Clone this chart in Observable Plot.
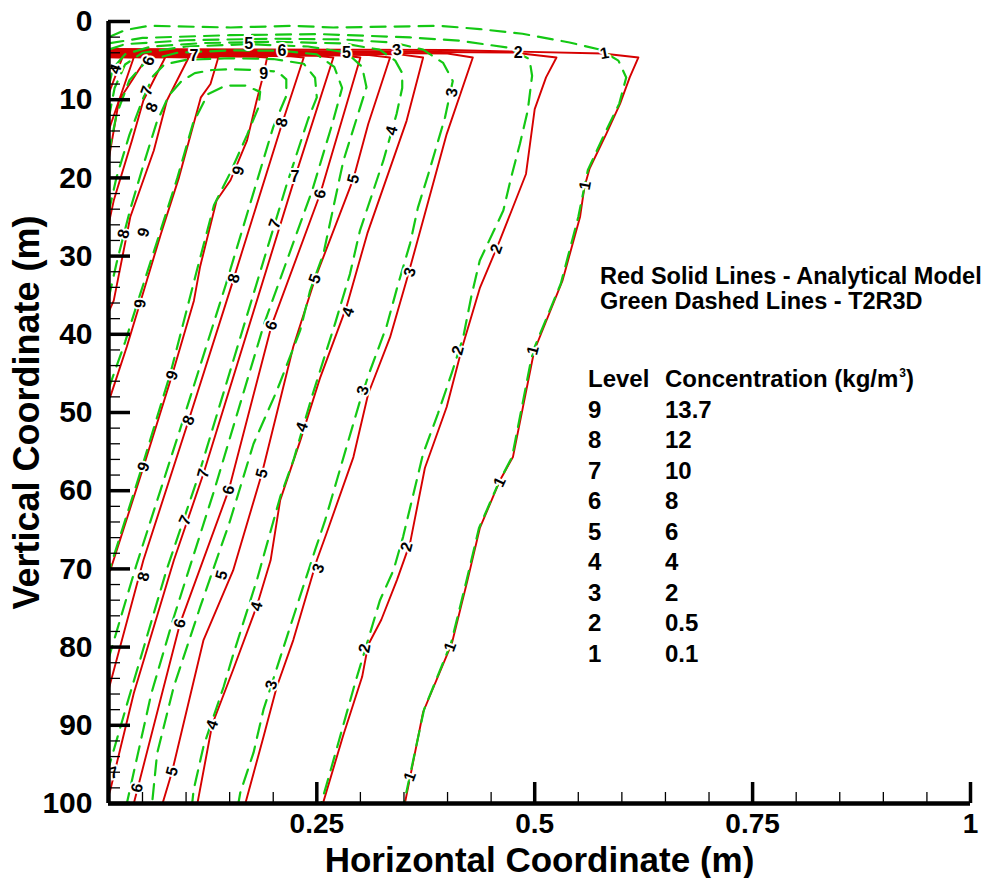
<!DOCTYPE html>
<html>
<head>
<meta charset="utf-8">
<script src="https://cdn.jsdelivr.net/npm/d3@7"></script>
<script src="https://cdn.jsdelivr.net/npm/@observablehq/plot@0.6"></script>
<style>
  html, body { margin: 0; padding: 0; background: #fff; }
  #wrap { position: relative; width: 1001px; height: 878px; overflow: hidden;
          font-family: "Liberation Sans", Arial, Helvetica, sans-serif; font-weight: bold; color: #000; }
  #wrap svg { position: absolute; left: 0; top: 0; }
  .note { position: absolute; white-space: nowrap; font-size: 24px; }
  .head { font-size: 23.5px; line-height: 24.5px; }
  .levels { left: 588px; top: 364px; line-height: 30.5px; }
  .levels .row { display: flex; height: 30.5px; }
  .levels .lv { width: 77px; }
  .sup { font-size: 12px; line-height: 0; position: relative; top: -10px; margin-left: 1px; }
</style>
</head>
<body>
<div id="wrap"></div>
<script>
// Axis ticks
const xTicks = [0.25, 0.5, 0.75, 1];
const xTickLabels = ["0.25", "0.5", "0.75", "1"];
const yTicks = [0, 10, 20, 30, 40, 50, 60, 70, 80, 90, 100];
const xDomain = [0.011, 1];

// Contour levels
const levels = [9, 8, 7, 6, 5, 4, 3, 2, 1];
const concentrations = ["13.7", "12", "10", "8", "6", "4", "2", "0.5", "0.1"];

// Analytical model contours (x in m, depth in m)
const red1 = [[0.011,3.5],[0.40,3.65],[0.578,4.09],[0.619,4.6],[0.609,7.15],[0.598,10.5],[0.582,14.4],[0.563,18.8],[0.557,21.2],[0.552,25.0],[0.532,33.1],[0.502,41.4],[0.498,42.9],[0.475,55.7],[0.460,58.7],[0.437,64.8],[0.423,71.4],[0.405,79.5],[0.372,88.3],[0.351,100]];
const red2 = [[0.011,3.62],[0.475,3.96],[0.525,4.6],[0.513,7.15],[0.500,11.2],[0.490,19.5],[0.460,28.0],[0.437,34.1],[0.417,41.6],[0.399,49.3],[0.374,57.1],[0.357,66.7],[0.342,71.4],[0.324,76.5],[0.309,79.7],[0.302,83.8],[0.280,91.4],[0.257,100]];
const red3 = [[0.011,3.75],[0.400,4.1],[0.429,4.6],[0.399,14.4],[0.374,24.6],[0.353,33.1],[0.334,40.4],[0.309,47.6],[0.292,55.7],[0.261,65.5],[0.250,68.9],[0.223,79.1],[0.204,85.1],[0.189,91.4],[0.168,100]];
const red4 = [[0.011,3.85],[0.345,4.2],[0.372,4.6],[0.353,12.7],[0.308,27.1],[0.284,36.5],[0.254,45.5],[0.231,53.6],[0.208,61.2],[0.197,68.9],[0.181,74.8],[0.154,82.9],[0.130,89.9],[0.113,100]];
const red5 = [[0.011,3.95],[0.310,4.3],[0.334,4.6],[0.309,13.1],[0.292,20.1],[0.248,32.9],[0.223,41.6],[0.187,57.8],[0.154,70.2],[0.120,79.1],[0.084,95.9],[0.073,100]];
const red6 = [[0.011,4.05],[0.280,4.35],[0.300,4.6],[0.254,22.0],[0.198,38.9],[0.149,59.9],[0.093,77.0],[0.040,100]];
const red7 = [[0.011,4.12],[0.250,4.4],[0.269,4.6],[0.225,19.9],[0.120,57.8],[0.086,68.9],[0.040,85.9],[0.013,98.3],[0.011,99]];
const red8 = [[0.011,4.2],[0.220,4.45],[0.235,4.6],[0.210,13.1],[0.154,33.1],[0.103,51.0],[0.051,68.9],[0.011,85.5]];
const red9 = [[0.011,4.28],[0.180,4.5],[0.193,4.6],[0.189,6.7],[0.181,10.1],[0.170,15.2],[0.151,20.3],[0.135,22.9],[0.116,31.4],[0.109,35.7],[0.084,45.2],[0.051,57.0],[0.013,70.2]];
const red9West = [[0.011,4.35],[0.137,4.6],[0.128,8.0],[0.117,9.7],[0.092,19.9],[0.071,27.2],[0.048,35.7],[0.032,41.6],[0.013,48.0]];
const red8West = [[0.011,4.42],[0.103,4.6],[0.078,10.1],[0.063,16.5],[0.036,25.0],[0.017,35.7],[0.011,37.2]];
const red7West = [[0.011,4.48],[0.076,4.6],[0.051,10.1],[0.038,15.2],[0.017,22.9],[0.011,26.0]];
const red6West = [[0.011,4.52],[0.055,4.6],[0.023,10.1],[0.011,17.8]];
const red5West = [[0.011,4.56],[0.040,4.6],[0.011,14.0]];
const red4West = [[0.011,4.58],[0.027,4.6],[0.011,9.3]];

// T2R3D contours
const green1 = [[0.011,2.0],[0.030,1.1],[0.057,0.55],[0.151,0.77],[0.223,0.55],[0.269,0.77],[0.391,0.55],[0.437,0.97],[0.486,1.57],[0.540,2.68],[0.575,3.6],[0.596,5.0],[0.605,7.15],[0.597,10.5],[0.580,14.4],[0.561,19.0],[0.550,25.0],[0.530,33.5],[0.500,41.6],[0.496,43.2],[0.474,55.7],[0.459,58.9],[0.436,64.8],[0.422,71.4],[0.404,79.5],[0.373,88.0],[0.350,100]];
const green2 = [[0.011,2.8],[0.050,2.1],[0.150,1.75],[0.254,1.61],[0.307,1.83],[0.357,2.04],[0.414,2.46],[0.468,3.32],[0.494,4.8],[0.497,6.94],[0.492,11.4],[0.483,15.66],[0.473,19.92],[0.464,24.18],[0.437,30.56],[0.4275,35.03],[0.418,40.36],[0.4046,45.03],[0.389,50.14],[0.372,55.25],[0.349,65.9],[0.338,70.15],[0.3225,74.0],[0.2939,84.6],[0.267,95.3],[0.255,100]];
const green3 = [[0.011,3.6],[0.030,2.9],[0.100,2.4],[0.200,2.2],[0.280,2.3],[0.338,2.7],[0.372,3.6],[0.395,5.3],[0.406,7.6],[0.397,12.3],[0.378,19.5],[0.366,23.8],[0.357,28.4],[0.3435,33.5],[0.330,39.0],[0.310,45.0],[0.2996,48.5],[0.2862,53.6],[0.2729,58.7],[0.2595,63.8],[0.248,67.6],[0.2194,77.4],[0.1888,88.0],[0.1774,93.5],[0.1622,98.6],[0.160,100]];
const green4 = [[0.011,8.5],[0.016,6.0],[0.030,4.2],[0.060,3.2],[0.120,2.75],[0.200,2.6],[0.280,2.8],[0.322,3.6],[0.340,5.0],[0.348,6.6],[0.348,8.5],[0.3416,11.8],[0.3263,17.8],[0.311,22.9],[0.2996,26.7],[0.288,32.3],[0.271,38.6],[0.2576,43.3],[0.2443,48.0],[0.2232,56.1],[0.208,60.8],[0.1813,71.4],[0.1545,80.8],[0.143,85.1],[0.120,92.7],[0.1087,98.25],[0.107,100]];
const green5 = [[0.011,12.5],[0.018,8.5],[0.030,5.5],[0.050,4.0],[0.100,3.2],[0.172,2.9],[0.240,3.2],[0.284,3.96],[0.302,5.8],[0.307,8.4],[0.2805,17.8],[0.2576,29.7],[0.2423,34.4],[0.2309,39.5],[0.2042,47.2],[0.1774,54.0],[0.150,64.0],[0.1164,74.8],[0.0858,85.1],[0.0668,93.6],[0.061,100]];
const green6 = [[0.011,17.0],[0.020,12.0],[0.035,7.5],[0.055,5.0],[0.090,4.0],[0.150,3.7],[0.210,3.74],[0.250,4.2],[0.270,5.8],[0.279,8.5],[0.268,13.0],[0.245,21.5],[0.190,38.5],[0.1316,60.2],[0.085,76.5],[0.060,86.0],[0.032,100]];
const green7 = [[0.011,24.5],[0.020,20.0],[0.035,14.5],[0.050,10.0],[0.062,7.0],[0.075,5.5],[0.100,4.9],[0.150,4.7],[0.200,4.8],[0.235,5.4],[0.248,7.2],[0.250,9.7],[0.240,12.5],[0.215,21.0],[0.113,58.5],[0.078,70.0],[0.033,87.0],[0.011,95.5]];
const green8 = [[0.011,35.5],[0.020,31.0],[0.036,24.0],[0.052,18.0],[0.066,13.0],[0.080,9.5],[0.095,7.6],[0.110,6.6],[0.130,6.2],[0.150,6.1],[0.180,6.2],[0.205,6.4],[0.215,7.4],[0.215,9.5],[0.200,13.5],[0.146,33.5],[0.095,51.5],[0.043,69.5],[0.011,81.5]];
const green9 = [[0.011,47.0],[0.030,41.0],[0.047,35.0],[0.070,27.0],[0.090,20.0],[0.108,13.0],[0.125,9.3],[0.145,8.2],[0.168,8.2],[0.185,9.0],[0.183,11.0],[0.170,14.5],[0.150,19.5],[0.132,23.5],[0.112,32.0],[0.082,45.0],[0.048,57.5],[0.011,70.5]];

// Level numbers written along the contours: [level, x, depth, angle]
const contourLabels = [
  [4,0.019,6.08,-70],[6,0.057,5.02,-70],[7,0.109,4.38,0],[5,0.172,2.89,0],[6,0.210,3.74,0],
  [5,0.284,3.96,0],[3,0.342,3.65,-10],[2,0.481,3.96,0],[1,0.580,4.09,-10],[9,0.189,6.72,0],
  [3,0.405,9.07,-80],[7,0.055,8.85,-70],[8,0.061,10.98,-70],[8,0.210,12.9,-75],[4,0.336,13.96,-75],
  [9,0.160,19.07,-75],[7,0.225,19.92,0],[5,0.292,20.13,-75],[6,0.254,22.04,-75],[1,0.558,20.98,-80],
  [7,0.202,25.87,-70],[8,0.0285,27.15,-75],[9,0.0514,26.95,-75],[2,0.456,29.07,-70],[5,0.248,32.9,-70],
  [3,0.357,32.06,-75],[8,0.155,32.86,-75],[9,0.0476,36.09,-85],[6,0.198,38.86,-70],[4,0.286,37.16,-70],
  [1,0.498,42.06,-75],[2,0.412,42.06,-75],[3,0.303,47.17,-75],[9,0.084,45.25,-70],[8,0.103,51.0,-70],
  [4,0.233,51.85,-70],[9,0.0514,56.96,-70],[7,0.120,57.8,-75],[5,0.187,57.8,-75],[6,0.149,59.9,-75],
  [1,0.460,58.88,-65],[7,0.099,63.77,-65],[2,0.353,67.18,-75],[3,0.252,69.94,-70],[8,0.0514,71.0,-75],
  [5,0.141,70.8,-75],[6,0.093,76.96,-75],[4,0.181,74.8,-75],[2,0.305,80.15,-80],[1,0.403,79.95,-70],
  [3,0.198,84.84,-75],[4,0.130,89.95,-70],[7,0.017,96.1,-15],[5,0.084,95.9,-75],[6,0.044,98.0,-75],
  [1,0.357,96.55,-70]
];

const analytical = [red1, red2, red3, red4, red5, red6, red7, red8, red9,
                    red9West, red8West, red7West, red6West, red5West, red4West];
const numerical = [green1, green2, green3, green4, green5, green6, green7, green8, green9];

const rows = (lines) => lines.flatMap((pts, id) => pts.map(([x, y]) => ({id, x, y})));
const redRows = rows(analytical);
const greenRows = rows(numerical);
const labelRows = contourLabels.map(([level, x, y, angle]) => ({level, x, y, angle}));
const xLabelRows = xTicks.map((value, i) => ({value, label: xTickLabels[i]}));

const xMinor = d3.range(1, 20).map(i => i * 0.05).filter((v, i) => (i + 1) % 5 !== 0);
const yMinor = d3.range(2, 100, 2).filter(v => v % 10 !== 0);

const mL = 108, mR = 31, mT = 21, mB = 75, W = 1001, H = 878;
const frameW = W - mL - mR, frameH = H - mT - mB;
const FONT = '"Liberation Sans", Arial, Helvetica, sans-serif';

const chart = Plot.plot({
  width: W, height: H,
  marginLeft: mL, marginRight: mR, marginTop: mT, marginBottom: mB,
  x: {domain: xDomain, axis: null},
  y: {domain: [0, 100], reverse: true, axis: null},
  style: {fontFamily: FONT, fontWeight: "bold", background: "transparent", color: "black"},
  marks: [
    Plot.line(redRows, {x: "x", y: "y", z: "id", stroke: "#d60000", strokeWidth: 1.9, clip: true}),
    Plot.line(greenRows, {x: "x", y: "y", z: "id", stroke: "#14c814", strokeWidth: 2.2,
      strokeDasharray: "15,9", clip: true}),
    Plot.text(labelRows, {x: "x", y: "y", text: d => String(d.level), rotate: "angle",
      fontSize: 16, fontWeight: "bold", fill: "black", stroke: "white", strokeWidth: 4,
      paintOrder: "stroke"}),
    // frame lines
    Plot.ruleX([xDomain[0]], {stroke: "black", strokeWidth: 4.5}),
    Plot.ruleY([100], {stroke: "black", strokeWidth: 4.5}),
    // inward ticks
    Plot.ruleX(xTicks, {stroke: "black", strokeWidth: 3.5, insetTop: frameH - 21}),
    Plot.ruleX(xMinor, {stroke: "black", strokeWidth: 1.3, insetTop: frameH - 11}),
    Plot.ruleY(yTicks, {stroke: "black", strokeWidth: 3.5, insetRight: frameW - 22}),
    Plot.ruleY(yMinor, {stroke: "black", strokeWidth: 1.3, insetRight: frameW - 12}),
    // tick labels
    Plot.text(yTicks, {y: d => d, text: d => String(d), frameAnchor: "left", dx: -16,
      textAnchor: "end", lineAnchor: "middle", fontSize: 30, fontWeight: "bold"}),
    Plot.text(xLabelRows, {x: "value", text: "label", frameAnchor: "bottom", dy: 21,
      textAnchor: "middle", lineAnchor: "middle", fontSize: 28, fontWeight: "bold"}),
    // axis titles
    Plot.text(["Horizontal Coordinate (m)"], {frameAnchor: "bottom", dy: 57, textAnchor: "middle",
      lineAnchor: "middle", fontSize: 35, fontWeight: "bold"}),
    Plot.text(["Vertical Coordinate (m)"], {frameAnchor: "left", dx: -81, rotate: -90, textAnchor: "middle",
      lineAnchor: "middle", fontSize: 36, fontWeight: "bold"})
  ]
});

const wrap = document.getElementById("wrap");
wrap.appendChild(chart);

// Key to the line styles and levels
const head = document.createElement("div");
head.className = "note head";
head.style.left = "600px";
head.style.top = "264px";
head.innerHTML = "Red Solid Lines - Analytical Model<br>Green Dashed Lines - T2R3D";
wrap.appendChild(head);

const table = document.createElement("div");
table.className = "note levels";
table.innerHTML = `<div class="row"><span class="lv">Level</span><span>Concentration (kg/m<span class="sup">3</span>)</span></div>` +
  levels.map((lv, i) => `<div class="row"><span class="lv">${lv}</span><span>${concentrations[i]}</span></div>`).join("");
wrap.appendChild(table);
</script>
</body>
</html>
